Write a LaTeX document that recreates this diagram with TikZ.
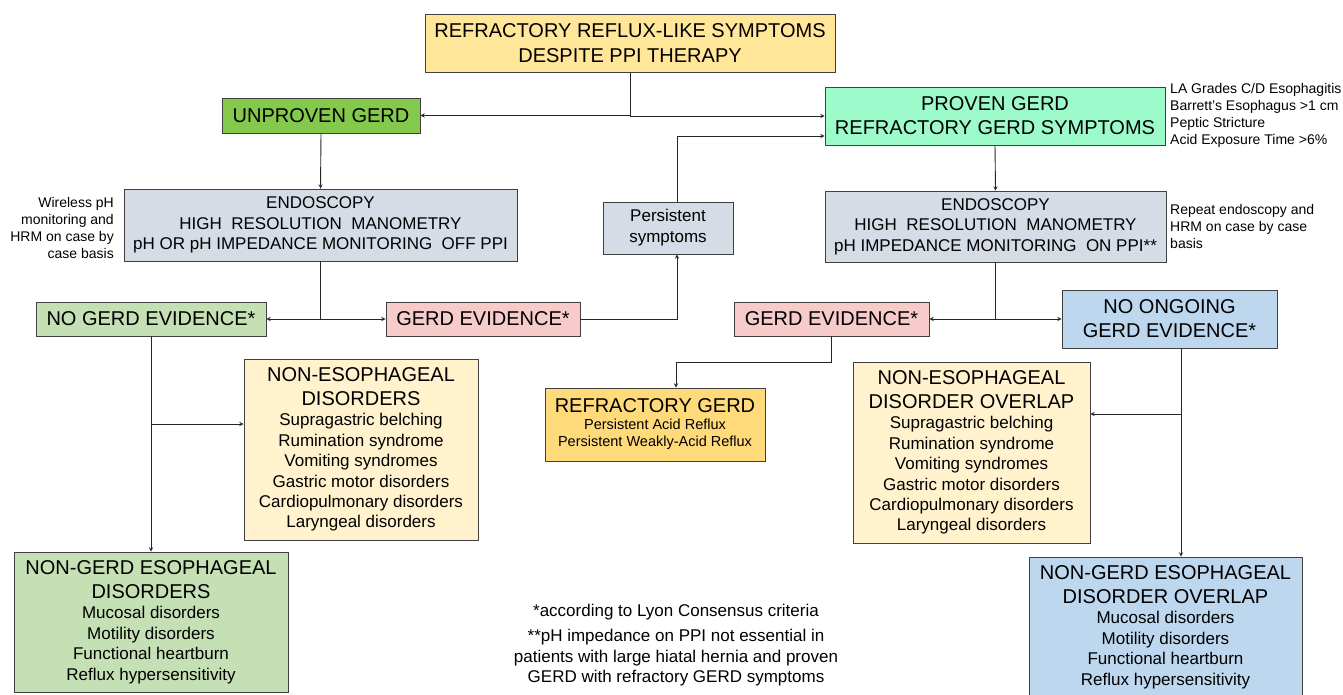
\documentclass[tikz,border=0pt]{standalone}
\usepackage{fontspec}
\setmainfont{Liberation Sans}
\usepackage{tikz}

\definecolor{startfill}{HTML}{FFE699}
\definecolor{unprovenfill}{HTML}{84C94B}
\definecolor{provenfill}{HTML}{9CFACB}
\definecolor{testfill}{HTML}{D6DCE5}
\definecolor{nogerdfill}{HTML}{C5E0B4}
\definecolor{gerdfill}{HTML}{F8CBCB}
\definecolor{ongoingfill}{HTML}{BDD7EE}
\definecolor{disorderfill}{HTML}{FFF2CC}
\definecolor{refractfill}{HTML}{FFDA7A}
\definecolor{edgegray}{HTML}{404040}

\newcommand{\titlefont}{\fontsize{20}{24}\selectfont}
\newcommand{\itemfont}{\fontsize{17}{20.4}\selectfont}
\newcommand{\notefont}{\fontsize{14}{17}\selectfont}

\tikzset{
	box/.style={draw=edgegray, line width=0.9pt, inner sep=0pt, align=flush center, font=\titlefont},
	conn/.style={line width=0.9pt, draw=black!85},
	arr/.style={conn, -stealth},
}

\begin{document}
\begin{tikzpicture}[x=1pt, y=-1pt]
			%%%%% START %%%%%
			\useasboundingbox (0, 0) rectangle (1343, 694);
			
			\node[box, fill=startfill, text width=410pt, minimum height=58pt, font=\fontsize{20}{25}\selectfont] (start) at (630, 43.5) {REFRACTORY REFLUX-LIKE SYMPTOMS\\DESPITE PPI THERAPY};
			
			\node[box, fill=unprovenfill, minimum width=198pt, minimum height=35pt] (unproven) at (321, 115.5) {UNPROVEN GERD};
			\node[box, fill=provenfill, text width=340pt, minimum height=58pt] (proven) at (995, 116) {PROVEN GERD\\REFRACTORY GERD SYMPTOMS};
			\node[font=\notefont, align=left, anchor=west, inner sep=0pt] (criteria) at (1170, 115.5) {LA Grades C/D Esophagitis\\Barrett's Esophagus >1 cm\\Peptic Stricture\\Acid Exposure Time >6\%};
			
			\node[box, fill=testfill, text width=393pt, minimum height=72pt, font=\fontsize{17}{20.5}\selectfont] (endol) at (320.5, 225) {ENDOSCOPY\\HIGH\ \ RESOLUTION\ \ MANOMETRY\\pH OR pH IMPEDANCE MONITORING\ \ OFF PPI};
			\node[font=\notefont, align=right, anchor=east, inner sep=0pt] (wireless) at (114, 227.5) {Wireless pH\\monitoring and\\HRM on case by\\case basis};
			\node[box, fill=testfill, text width=130pt, minimum height=52pt, font=\fontsize{17}{21}\selectfont] (persist) at (668, 228) {Persistent\\symptoms};
			\node[box, fill=testfill, text width=341pt, minimum height=71pt, font=\fontsize{17}{20.5}\selectfont] (endor) at (995.5, 226.5) {ENDOSCOPY\\HIGH\ \ RESOLUTION\ \ MANOMETRY\\pH IMPEDANCE MONITORING\ \ ON PPI**};
			\node[font=\notefont, align=left, anchor=west, inner sep=0pt] (repeat) at (1170, 226) {Repeat endoscopy and\\HRM on case by case\\basis};
			
			\node[box, fill=nogerdfill, minimum width=230pt, minimum height=34pt] (nogerd) at (151, 319) {NO GERD EVIDENCE*};
			\node[box, fill=gerdfill, minimum width=194pt, minimum height=34pt] (gerdl) at (483, 319) {GERD EVIDENCE*};
			\node[box, fill=gerdfill, minimum width=195pt, minimum height=34pt] (gerdr) at (831.5, 319) {GERD EVIDENCE*};
			\node[box, fill=ongoingfill, text width=215pt, minimum height=58pt] (noong) at (1169.5, 319) {NO ONGOING\\GERD EVIDENCE*};
			
			\node[box, fill=disorderfill, text width=234pt, minimum height=181pt] (nonesl) at (361, 449.5) {NON-ESOPHAGEAL\\DISORDERS\par\itemfont Supragastric belching\\Rumination syndrome\\Vomiting syndromes\\Gastric motor disorders\\Cardiopulmonary disorders\\Laryngeal disorders\par};
			\node[box, fill=refractfill, text width=220pt, minimum height=73pt] (refr) at (655, 424.5) {REFRACTORY GERD\par\fontsize{14.5}{17}\selectfont Persistent Acid Reflux\\Persistent Weakly-Acid Reflux\par};
			\node[box, fill=disorderfill, text width=237pt, minimum height=181pt] (nonesr) at (971.5, 452.5) {NON-ESOPHAGEAL\\DISORDER OVERLAP\par\itemfont Supragastric belching\\Rumination syndrome\\Vomiting syndromes\\Gastric motor disorders\\Cardiopulmonary disorders\\Laryngeal disorders\par};
			
			\node[box, fill=nogerdfill, text width=274pt, minimum height=140pt] (nongerdl) at (151, 622) {NON-GERD ESOPHAGEAL\\DISORDERS\par\itemfont Mucosal disorders\\Motility disorders\\Functional heartburn\\Reflux hypersensitivity\par};
			\node[box, fill=ongoingfill, text width=273pt, minimum height=140pt] (nongerdr) at (1165.5, 627) {NON-GERD ESOPHAGEAL\\DISORDER OVERLAP\par\itemfont Mucosal disorders\\Motility disorders\\Functional heartburn\\Reflux hypersensitivity\par};
			
			\node[font=\itemfont, align=center, inner sep=0pt] (notes) at (676, 645) {*according to Lyon Consensus criteria\\[5pt]**pH impedance on PPI not essential in\\patients with large hiatal hernia and proven\\GERD with refractory GERD symptoms};
			
			% connectors
			\draw[arr] (start.south) |- (unproven.east);
			\draw[arr] (start.south) |- (proven.west);
			\draw[arr] (unproven.south) -- (endol.north);
			\draw[arr] (endol.south) |- (nogerd.east);
			\draw[arr] (endol.south) |- (gerdl.west);
			\draw[arr] (gerdl.east) -| ([xshift=9pt]persist.south);
			\draw[arr] ([xshift=9pt]persist.north) |- ([yshift=-20pt]proven.west);
			\draw[arr] (proven.south) -- (endor.north);
			\draw[arr] (endor.south) |- (gerdr.east);
			\draw[arr] (endor.south) |- (noong.west);
			
			\coordinate (bendr) at (831.5, 362);
			\draw[arr] (gerdr.south) -- (bendr) -| ([xshift=21pt]refr.north);
			
			\coordinate (splitl) at (151, 424);
			\draw[arr] (nogerd.south) -- (nongerdl.north);
			\draw[arr] (splitl) -- (splitl -| nonesl.west);
			
			\coordinate (splitr) at (1181, 414);
			\draw[arr] (splitr |- noong.south) -- (splitr |- nongerdr.north);
			\draw[arr] (splitr) -- (splitr -| nonesr.east);
			
			%%%%% END %%%%%
\end{tikzpicture}
\end{document}
